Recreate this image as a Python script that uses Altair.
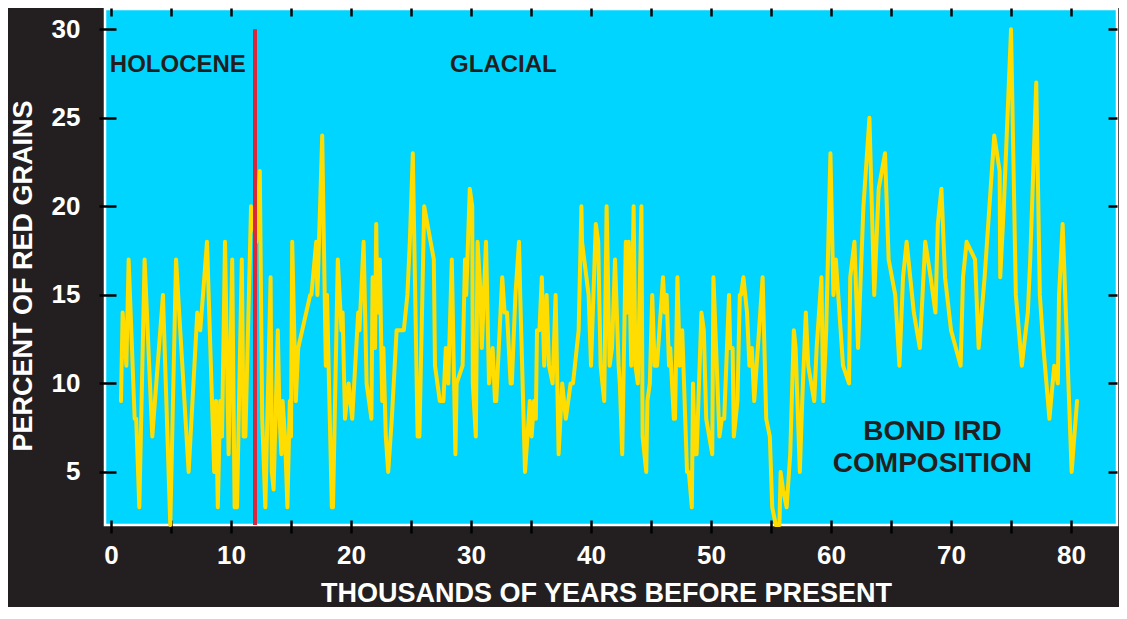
import altair as alt
import pandas as pd

# Bond IRD composition: thousands of years before present vs percent of red grains
years = [0.83, 0.97, 1.28, 1.47, 1.97, 2.1, 2.36, 2.8, 3.44, 4.33, 4.94, 5.42, 6.47,
         7.19, 7.44, 8.0, 8.6, 8.75, 8.9, 9.1, 9.25, 9.5, 9.8, 10.1, 10.3, 10.5,
         10.9, 11.05, 11.2, 11.67, 12.1, 12.4, 12.6, 12.86, 13.3, 13.4, 13.55, 13.9,
         14.05, 14.2, 14.3, 14.5, 14.7, 14.9, 15.0, 15.1, 15.4, 15.6, 16.6, 16.7,
         17.1, 17.2, 17.6, 17.9, 18.0, 18.4, 18.5, 18.9, 19.2, 19.3, 19.5, 19.8,
         20.1, 20.6, 20.7, 21.05, 21.3, 21.5, 21.7, 21.8, 22.0, 22.1, 22.2, 22.4,
         22.6, 22.7, 22.9, 23.1, 23.4, 23.8, 24.4, 24.7, 24.9, 25.15, 25.55, 25.7,
         26.1, 26.9, 27.0, 27.4, 27.7, 27.9, 28.1, 28.4, 28.7, 28.8, 29.3, 29.5,
         29.6, 29.9, 30.1, 30.15, 30.4, 30.55, 30.8, 30.9, 31.25, 31.5, 31.8, 32.0,
         32.1, 32.6, 32.8, 33.0, 33.3, 33.4, 33.7, 34.0, 34.1, 34.5, 34.9, 35.05,
         35.25, 35.4, 35.5, 35.7, 35.9, 36.1, 36.3, 36.5, 36.8, 37.05, 37.3, 37.6,
         37.9, 38.3, 38.5, 38.97, 39.2, 39.25, 39.8, 40.0, 40.4, 40.6, 40.8, 41.1,
         41.3, 41.55, 41.75, 42.0, 42.3, 42.4, 42.6, 42.9, 43.05, 43.15, 43.35,
         43.55, 43.7, 43.9, 44.2, 44.3, 44.6, 44.7, 44.9, 45.1, 45.3, 45.5, 45.8,
         46.0, 46.15, 46.3, 46.5, 46.6, 46.9, 47.0, 47.2, 47.4, 47.6, 48.0, 48.15,
         48.4, 48.5, 48.65, 48.8, 49.2, 49.4, 49.6, 50.1, 50.2, 50.7, 50.9, 51.1,
         51.5, 51.6, 51.8, 51.9, 52.2, 52.4, 52.5, 52.7, 53.0, 53.2, 53.4, 53.6,
         54.0, 54.3, 54.6, 54.9, 55.1, 55.4, 55.7, 55.8, 56.0, 56.3, 56.6, 56.9,
         57.05, 57.4, 57.6, 57.9, 58.1, 58.6, 58.8, 59.2, 59.35, 59.6, 59.95, 60.2,
         60.4, 60.8, 61.0, 61.5, 61.6, 61.95, 62.25, 62.7, 63.2, 63.6, 63.97, 64.5,
         64.8, 65.35, 65.7, 66.0, 66.3, 66.9, 67.4, 67.85, 68.3, 68.7, 68.9, 69.2,
         69.5, 70.0, 70.4, 70.8, 71.0, 71.3, 72.0, 72.3, 72.8, 73.6, 74.05, 74.1,
         74.4, 75.0, 75.4, 75.9, 76.4, 76.6, 77.1, 77.4, 77.7, 78.2, 78.6, 78.9,
         79.0, 79.3, 80.05, 80.5]
pct = [9, 14, 11, 17, 8, 8, 3, 17, 7, 15, 2, 17, 5,
       14, 13, 18, 5, 9, 3, 9, 7, 18, 6, 17, 3, 3,
       17, 7, 7, 20, 18, 22, 8, 3, 16, 5, 4, 13,
       8, 6, 9, 7, 3, 9, 7, 18, 9, 12, 15, 15,
       18, 15, 24, 11, 15, 3, 3, 17, 13, 14, 8, 10,
       8, 14, 13, 18, 10, 9, 8, 16, 12, 19, 14, 17,
       9, 12, 7, 5, 8, 13, 13, 15, 18, 23, 7, 7,
       20, 17, 11, 9, 9, 12, 10, 17, 6, 10, 11, 17,
       15, 21, 20, 10, 7, 18, 15, 12, 18, 10, 12, 9,
       9, 16, 14, 14, 10, 10, 15, 18, 15, 5, 9, 7,
       9, 8, 13, 13, 16, 11, 15, 11, 10, 15, 6, 10,
       8, 10, 10, 13, 20, 18, 15, 11, 19, 18, 11, 9,
       20, 11, 12, 17, 11, 10, 6, 18, 14, 18, 11,
       20, 11, 10, 20, 7, 5, 9, 10, 15, 11, 11, 14,
       16, 14, 15, 11, 12, 8, 8, 16, 11, 13, 5, 5,
       3, 10, 6, 6, 14, 13, 8, 6, 16, 7, 8, 8,
       15, 12, 12, 7, 9, 15, 15, 16, 14, 11, 12, 9,
       13, 16, 8, 7, 3, 2, 2, 5, 4, 3, 6, 13,
       12, 5, 9, 14, 11, 9, 12, 16, 9, 13, 23, 15,
       17, 13, 11, 10, 16, 18, 12, 20, 25, 15, 21, 23,
       17, 15, 11, 16, 18, 14, 12, 18, 16, 14, 19, 21,
       16, 13, 12, 11, 16, 18, 17, 12, 16, 24, 22, 16,
       20, 30, 15, 11, 14, 17, 27, 15, 12, 8, 11, 10,
       15, 19, 5, 9]

boundary_year = [12.0]
boundary_top = [30.0]
boundary_bottom = [2.0]

period_labels = ["HOLOCENE", "GLACIAL"]
period_x = [-0.1, 32.7]
period_y = [28.0, 28.0]

title_lines = ["BOND IRD", "COMPOSITION"]
title_x = [68.45, 68.45]
title_y = [7.25, 5.45]

x_ticks = list(range(0, 85, 5))
y_ticks = [5, 10, 15, 20, 25, 30]

FONT = "Liberation Sans"
BG = "#231f20"
CYAN = "#00d5ff"
YELLOW = "#ffdd00"
RED = "#d7283c"

xs = alt.Scale(domain=[-0.5, 83.83], nice=False, zero=False)
ys = alt.Scale(domain=[2, 31.15], nice=False, zero=False)

df = pd.DataFrame({"kyr": years, "pct": pct})
rule_df = pd.DataFrame({"kyr": boundary_year, "top": boundary_top, "bottom": boundary_bottom})
lab_df = pd.DataFrame({"label": period_labels, "kyr": period_x, "pct": period_y})
comp_df = pd.DataFrame({"label": title_lines, "kyr": title_x, "pct": title_y})

bottom_axis = alt.Axis(
    orient="bottom", values=x_ticks, offset=-5, tickSize=13, tickWidth=2.5, tickColor="black",
    domain=False, grid=False,
    labelExpr="datum.value % 10 === 0 ? datum.label : ''",
    labelFont=FONT, labelFontSize=26, labelFontWeight="bold", labelColor="white", labelPadding=9,
    title="THOUSANDS OF YEARS BEFORE PRESENT", titleFont=FONT, titleFontSize=27,
    titleFontWeight="bold", titleColor="white", titleX=501, titleY=73,
    titleAlign="center", titleBaseline="middle",
)
left_axis = alt.Axis(
    orient="left", values=y_ticks, offset=-11, tickSize=17, tickWidth=2.5, tickColor="black",
    domain=False, grid=False,
    labelFont=FONT, labelFontSize=26, labelFontWeight="bold", labelColor="white", labelPadding=19,
    title="PERCENT OF RED GRAINS", titleFont=FONT, titleFontSize=27, titleFontWeight="bold",
    titleColor="white", titleAngle=270, titleX=-93, titleY=266.5,
    titleAlign="center", titleBaseline="middle",
)
top_axis = alt.Axis(
    orient="top", values=x_ticks, offset=-7, tickSize=8, tickWidth=2.5, tickColor="black",
    domain=False, grid=False, labels=False, title=None,
)
right_axis = alt.Axis(
    orient="right", values=y_ticks, offset=-9, tickSize=9, tickWidth=2.5, tickColor="black",
    domain=False, grid=False, labels=False, title=None,
)

line = alt.Chart(df).mark_line(
    color=YELLOW, strokeWidth=4, strokeJoin="round", strokeCap="round"
).encode(
    x=alt.X("kyr:Q", scale=xs, axis=bottom_axis),
    y=alt.Y("pct:Q", scale=ys, axis=left_axis),
)

rule = alt.Chart(rule_df).mark_rule(color=RED, strokeWidth=4).encode(
    x=alt.X("kyr:Q", scale=xs, axis=top_axis),
    y=alt.Y("top:Q", scale=ys, axis=right_axis),
    y2="bottom:Q",
)

holo = alt.Chart(lab_df.iloc[[0]]).mark_text(
    font=FONT, fontSize=24, fontWeight="bold", color=BG, align="left", baseline="middle"
).encode(
    x=alt.X("kyr:Q", scale=xs, axis=None),
    y=alt.Y("pct:Q", scale=ys, axis=None),
    text="label:N",
)
glac = alt.Chart(lab_df.iloc[[1]]).mark_text(
    font=FONT, fontSize=24, fontWeight="bold", color=BG, align="center", baseline="middle"
).encode(
    x=alt.X("kyr:Q", scale=xs, axis=None),
    y=alt.Y("pct:Q", scale=ys, axis=None),
    text="label:N",
)
comp = alt.Chart(comp_df).mark_text(
    font=FONT, fontSize=28, fontWeight="bold", color=BG, align="center", baseline="middle"
).encode(
    x=alt.X("kyr:Q", scale=xs, axis=None),
    y=alt.Y("pct:Q", scale=ys, axis=None),
    text="label:N",
)

chart = alt.layer(line, rule, holo, glac, comp).resolve_axis(
    x="independent", y="independent"
).properties(
    width=1012, height=516,
    autosize=alt.AutoSizeParams(type="none"),
    padding={"left": 97, "top": 1, "right": 2, "bottom": 82},
    background=BG,
).configure_view(
    fill=CYAN, stroke="white", strokeWidth=2.5
)

chart.save("out.html", embed_options={"renderer": "svg", "actions": False})
